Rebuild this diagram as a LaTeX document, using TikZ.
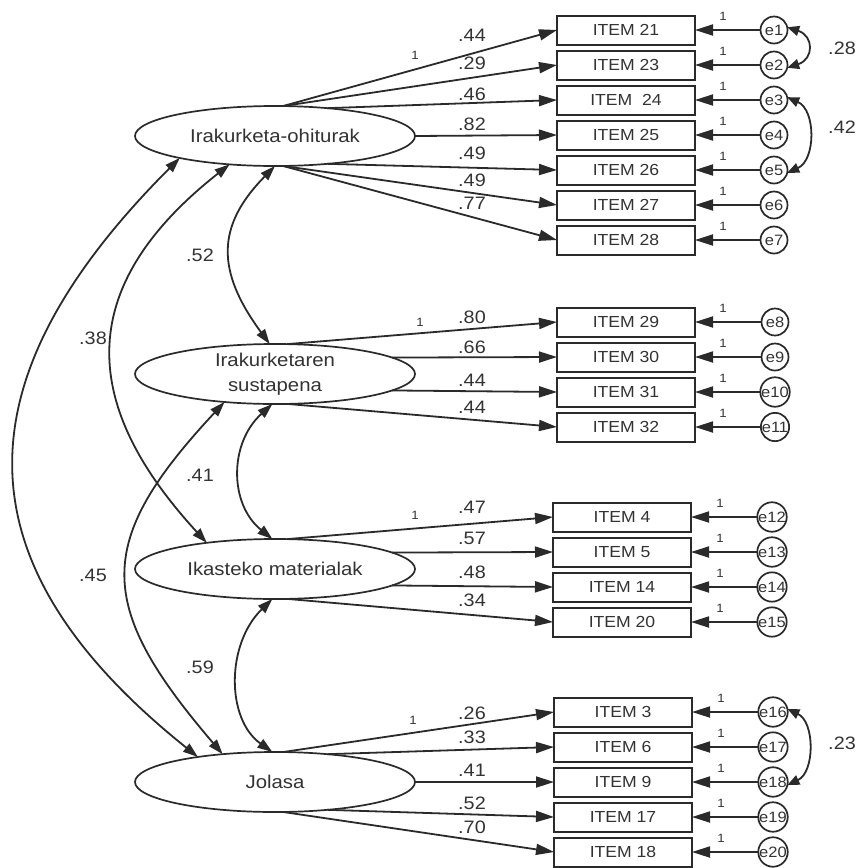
\documentclass[tikz,border=0pt]{standalone}
\usepackage{fontspec}
\setmainfont[FakeStretch=1.1]{Liberation Sans}
\usetikzlibrary{arrows.meta,shapes.geometric}
\definecolor{ln}{HTML}{2A2A2A}
\definecolor{tx}{HTML}{333333}
\begin{document}
\begin{tikzpicture}[x=1pt,y=-1pt,
  every node/.style={text=tx},
  lat/.style={draw=ln, line width=1.7pt, ellipse, minimum width=280pt, minimum height=60pt,
    inner sep=0pt, outer sep=0pt, font=\fontsize{18.5}{25}\selectfont, align=center},
  itembox/.style={draw=ln, line width=2pt, minimum width=138pt, minimum height=29pt,
    inner sep=0pt, outer sep=0pt, font=\fontsize{16}{19}\selectfont},
  errc/.style={draw=ln, line width=1.7pt, circle, minimum size=27pt, inner sep=0pt,
    outer sep=0pt, font=\fontsize{15}{16}\selectfont},
  ld/.style={font=\fontsize{18}{20}\selectfont, inner sep=0pt},
  one/.style={font=\fontsize{12}{13}\selectfont, inner sep=0pt},
  ldarrow/.style={draw=ln, line width=1.8pt, -{Triangle[length=18pt,width=11pt]}},
  cov/.style={draw=ln, line width=1.8pt, {Triangle[length=15pt,width=10pt]}-{Triangle[length=15pt,width=10pt]}},
  ecov/.style={draw=ln, line width=1.8pt, {Triangle[length=12pt,width=10pt]}-{Triangle[length=12pt,width=10pt]}},
]
\useasboundingbox (0,0) rectangle (862,868);
\fill[white] (0,0) rectangle (862,868);

% latent variables
\node[lat] (L1) at (275,136) {Irakurketa-ohiturak};
\node[lat] (L2) at (275,374) {Irakurketaren\\sustapena};
\node[lat] (L3) at (275,569) {Ikasteko materialak};
\node[lat] (L4) at (275,782) {Jolasa};

% group 1
\foreach \i/\e/\y/\t in {21/1/30/ITEM 21, 23/2/65/ITEM 23, 24/3/100/ITEM\ \ 24, 25/4/135/ITEM 25,
  26/5/170/ITEM 26, 27/6/205/ITEM 27, 28/7/240/ITEM 28}{
  \node[itembox] (i\i) at (626,\y) {\t};
  \node[errc] (e\e) at (774,\y) {e\e};
  \draw[ldarrow] (e\e.west) -- (i\i.east);
  \node[one] (u\e) at (723,\y-14) {1};
}
% group 2
\foreach \i/\e/\y in {29/8/322, 30/9/357, 31/10/392, 32/11/427}{
  \node[itembox] (i\i) at (626,\y) {ITEM \i};
  \node[errc] (e\e) at (775,\y) {e\e};
  \draw[ldarrow] (e\e.west) -- (i\i.east);
  \node[one] (u\e) at (723,\y-14) {1};
}
% group 3
\foreach \i/\e/\y in {4/12/517, 5/13/552, 14/14/587, 20/15/622}{
  \node[itembox] (i\i) at (622,\y) {ITEM \i};
  \node[errc] (e\e) at (772,\y) {e\e};
  \draw[ldarrow] (e\e.west) -- (i\i.east);
  \node[one] (u\e) at (720,\y-14) {1};
}
% group 4
\foreach \i/\e/\y in {3/16/712, 6/17/747, 9/18/782, 17/19/817, 18/20/852}{
  \node[itembox] (i\i) at (623,\y) {ITEM \i};
  \node[errc] (e\e) at (773,\y) {e\e};
  \draw[ldarrow] (e\e.west) -- (i\i.east);
  \node[one] (u\e) at (721,\y-14) {1};
}

% loadings
\foreach \i/\a in {21/75, 23/75, 24/28, 25/0, 26/332, 27/285, 28/285}
  \draw[ldarrow] (L1.\a) -- (i\i.west);
\foreach \i/\a in {29/68, 30/8, 31/352, 32/292}
  \draw[ldarrow] (L2.\a) -- (i\i.west);
\foreach \i/\a in {4/68, 5/8, 14/352, 20/292}
  \draw[ldarrow] (L3.\a) -- (i\i.west);
\foreach \i/\a in {3/75, 6/28, 9/0, 17/332, 18/285}
  \draw[ldarrow] (L4.\a) -- (i\i.west);

% loading labels
\foreach \n/\y/\t in {a1/35/.44, a2/63/.29, a3/94/.46, a4/124/.82, a5/153/.49, a6/180/.49, a7/203/.77,
  b1/317/.80, b2/347/.66, b3/380/.44, b4/407/.44,
  c1/507/.47, c2/538/.57, c3/572/.48, c4/600/.34,
  d1/713/.26, d2/737/.33, d3/770/.41, d4/803/.52, d5/827/.70}
  \node[ld] (\n) at (472,\y) {\t};
\node[one] (f1) at (415,55) {1};
\node[one] (f2) at (420,322) {1};
\node[one] (f3) at (415,515) {1};
\node[one] (f4) at (413,720) {1};

% covariances between latent variables
\draw[cov] (L1.270) .. controls (216,226) and (216,271) .. (L2.100);
\draw[cov] (L2.265) .. controls (229,443) and (229,504) .. (L3.95);
\draw[cov] (L3.265) .. controls (226,644) and (226,719) .. (L4.95);
\draw[cov] (L1.212) .. controls (70,290) and (83,408) .. (L3.159);
\draw[cov] (L1.193) .. controls (-45,383) and (-41,566) .. (L4.162);
\draw[cov] (L2.209) .. controls (94,542) and (95,605) .. (L4.152);
\node[ld] (k52) at (200,255) {.52};
\node[ld] (k38) at (93,338) {.38};
\node[ld] (k41) at (200,475) {.41};
\node[ld] (k45) at (93,575) {.45};
\node[ld] (k59) at (200,667) {.59};

% error covariances
\draw[ecov] (e1.12) .. controls (814,36) and (814,59) .. (e2.348);
\draw[ecov] (e3.12) .. controls (816,110) and (816,160) .. (e5.348);
\draw[ecov] (e16.12) .. controls (815,722) and (815,772) .. (e18.348);
\node[ld] (k28) at (842,48) {.28};
\node[ld] (k42) at (842,127) {.42};
\node[ld] (k23) at (842,743) {.23};
\end{tikzpicture}
\end{document}
